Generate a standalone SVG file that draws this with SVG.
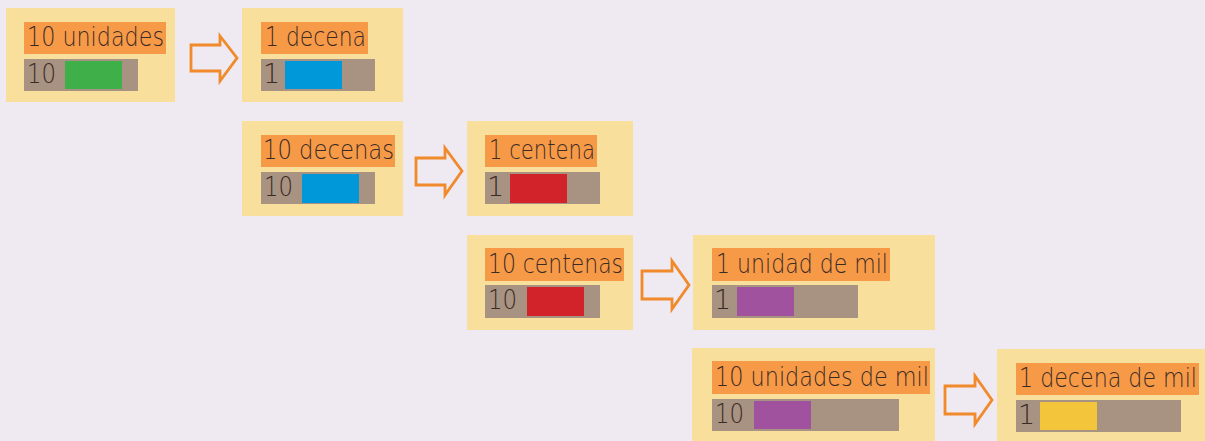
<svg xmlns="http://www.w3.org/2000/svg" width="1205" height="441" viewBox="0 0 1205 441">
<style>
.box{fill:#f8df9c}
.lab{fill:#f79a48}
.bar{fill:#a89282}
.t{font-family:"DejaVu Sans","Liberation Sans",Arial,sans-serif;font-weight:200;font-size:27px;fill:#3b2b25}
.arr{fill:#efe9f1;stroke:#f08a2a;stroke-width:2.8;stroke-linejoin:miter}
</style>
<rect width="1205" height="441" fill="#efe9f1"/>
<g id="n1">
<rect class="box" x="6" y="8" width="169" height="94"/>
<rect class="lab" x="24" y="22" width="142" height="32"/>
<text class="t" x="27" y="46" textLength="137" lengthAdjust="spacingAndGlyphs">10 unidades</text>
<rect class="bar" x="24" y="59" width="114" height="32"/>
<text class="t" x="27" y="83" textLength="29" lengthAdjust="spacingAndGlyphs">10</text>
<rect x="65" y="61" width="57" height="28" fill="#3faf4a"/>
</g>
<g id="n2">
<rect class="box" x="242" y="8" width="161" height="94"/>
<rect class="lab" x="261" y="22" width="107" height="32"/>
<text class="t" x="265" y="46" textLength="101" lengthAdjust="spacingAndGlyphs">1 decena</text>
<rect class="bar" x="261" y="59" width="114" height="32"/>
<text class="t" x="263" y="83">1</text>
<rect x="285" y="61" width="57" height="28" fill="#0098d8"/>
</g>
<g id="n3">
<rect class="box" x="242" y="121" width="161" height="95"/>
<rect class="lab" x="261" y="135" width="134" height="32"/>
<text class="t" x="263" y="159" textLength="131" lengthAdjust="spacingAndGlyphs">10 decenas</text>
<rect class="bar" x="261" y="172" width="114" height="32"/>
<text class="t" x="264" y="196" textLength="29" lengthAdjust="spacingAndGlyphs">10</text>
<rect x="302" y="174" width="57" height="29" fill="#0098d8"/>
</g>
<g id="n4">
<rect class="box" x="467" y="121" width="166" height="95"/>
<rect class="lab" x="485" y="135" width="112" height="32"/>
<text class="t" x="489" y="159" textLength="106" lengthAdjust="spacingAndGlyphs">1 centena</text>
<rect class="bar" x="485" y="172" width="115" height="32"/>
<text class="t" x="487" y="196">1</text>
<rect x="510" y="174" width="57" height="29" fill="#d2232a"/>
</g>
<g id="n5">
<rect class="box" x="467" y="235" width="166" height="95"/>
<rect class="lab" x="485" y="248" width="139" height="33"/>
<text class="t" x="488" y="273" textLength="135" lengthAdjust="spacingAndGlyphs">10 centenas</text>
<rect class="bar" x="485" y="285" width="115" height="33"/>
<text class="t" x="488" y="309" textLength="29" lengthAdjust="spacingAndGlyphs">10</text>
<rect x="527" y="287" width="57" height="29" fill="#d2232a"/>
</g>
<g id="n6">
<rect class="box" x="693" y="235" width="242" height="95"/>
<rect class="lab" x="712" y="248" width="178" height="33"/>
<text class="t" x="716" y="273" textLength="172" lengthAdjust="spacingAndGlyphs">1 unidad de mil</text>
<rect class="bar" x="712" y="285" width="146" height="33"/>
<text class="t" x="714" y="309">1</text>
<rect x="737" y="287" width="57" height="29" fill="#a0529f"/>
</g>
<g id="n7">
<rect class="box" x="692" y="348" width="243" height="93"/>
<rect class="lab" x="712" y="361" width="218" height="33"/>
<text class="t" x="715" y="386" textLength="214" lengthAdjust="spacingAndGlyphs">10 unidades de mil</text>
<rect class="bar" x="712" y="399" width="187" height="32"/>
<text class="t" x="715" y="423" textLength="29" lengthAdjust="spacingAndGlyphs">10</text>
<rect x="754" y="401" width="57" height="28" fill="#a0529f"/>
</g>
<g id="n8">
<rect class="box" x="997" y="349" width="208" height="92"/>
<rect class="lab" x="1016" y="363" width="183" height="32"/>
<text class="t" x="1019" y="387" textLength="178" lengthAdjust="spacingAndGlyphs">1 decena de mil</text>
<rect class="bar" x="1016" y="400" width="165" height="32"/>
<text class="t" x="1018" y="424">1</text>
<rect x="1040" y="402" width="57" height="28" fill="#f2c53a"/>
</g>
<g id="connectors">
<path class="arr" d="M191,45 H220 V36 L237,58 L220,81 V71 H191 Z"/>
<path class="arr" d="M416,158 H445 V148 L462,171 L445,195 V185 H416 Z"/>
<path class="arr" d="M642,271 H672 V261 L689,285 L672,309 V299 H642 Z"/>
<path class="arr" d="M945,386 H975 V376 L992,400 L975,424 V414 H945 Z"/>
</g>
</svg>
